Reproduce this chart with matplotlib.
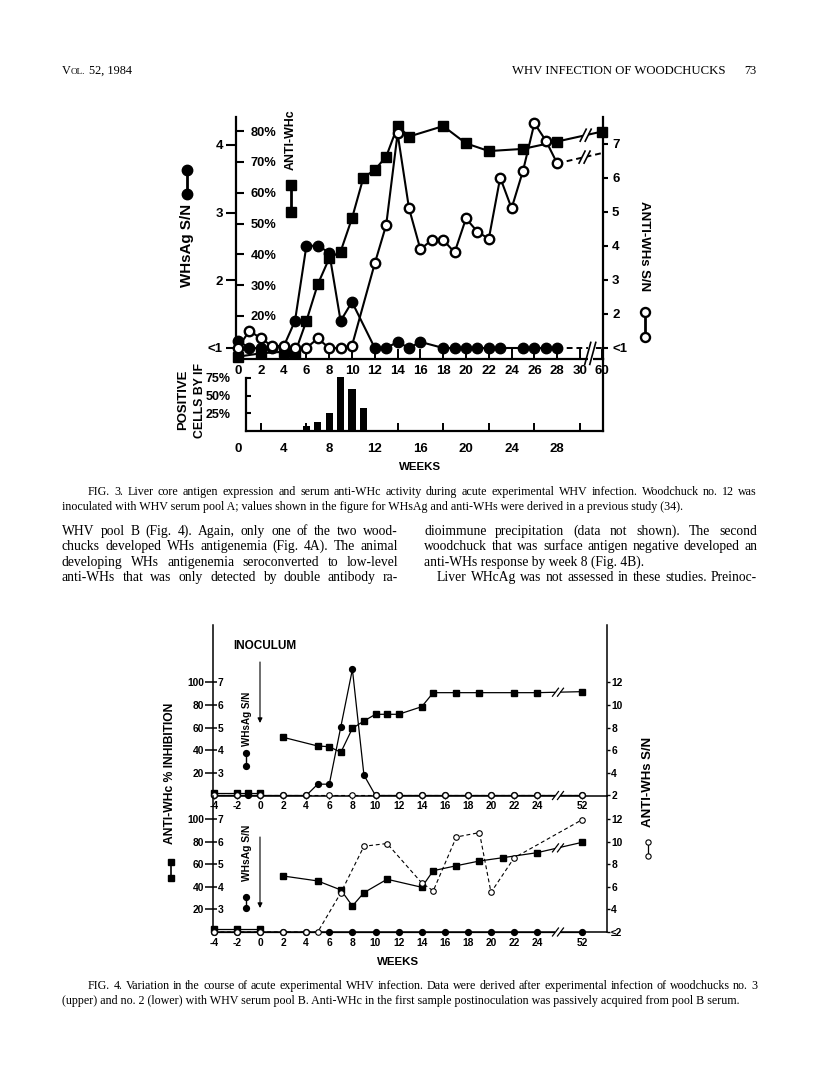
import matplotlib
matplotlib.use('Agg')
import matplotlib.pyplot as plt
from matplotlib.lines import Line2D
from matplotlib.patches import Rectangle
from matplotlib.transforms import IdentityTransform
import numpy as np

SANS = ['Liberation Sans', 'DejaVu Sans']
SERIF = ['Liberation Serif', 'DejaVu Serif']
plt.rcParams['font.family'] = SANS

# ---------------- data: Fig. 3 ----------------
f3_whc_weeks = [0, 2, 4, 5, 6, 7, 8, 9, 10, 11, 12, 13, 14, 15, 18, 20, 22, 25, 28, 60]
f3_whc_pct = [6.8, 7.9, 8.4, 8.0, 18.4, 30.3, 38.7, 40.9, 51.7, 64.9, 67.4, 71.7, 81.6,
              78.2, 81.6, 76.0, 73.5, 74.2, 76.6, 79.8]
f3_whsag_weeks = [0, 1, 2, 3, 4, 5, 6, 7, 8, 9, 10, 12, 13, 14, 15, 16, 18, 19, 20, 21,
                  22, 23, 25, 26, 27, 28, 60]
f3_whsag_sn = [1.11, 1.0, 1.0, 1.0, 1.02, 1.40, 2.51, 2.51, 2.41, 1.40, 1.68, 1.0, 1.0,
               1.09, 1.0, 1.09, 1.0, 1.0, 1.0, 1.0, 1.0, 1.0, 1.0, 1.0, 1.0, 1.0, 1.0]
f3_antiwhs_weeks = [0, 1, 2, 3, 4, 5, 6, 7, 8, 9, 10, 12, 13, 14, 15, 16, 17, 18, 19, 20,
                    21, 22, 23, 24, 25, 26, 27, 28, 60]
f3_antiwhs_sn = [1.0, 1.51, 1.28, 1.06, 1.06, 1.0, 1.0, 1.28, 1.0, 1.0, 1.07, 3.49, 4.62,
                 7.31, 5.11, 3.90, 4.18, 4.18, 3.81, 4.81, 4.42, 4.21, 6.01, 5.11, 6.21,
                 7.61, 7.10, 6.43, 6.73]
f3_if_weeks = [2, 4, 6, 7, 8, 9, 10, 11, 13, 16]
f3_if_pct = [1, 1, 7, 13, 25, 76, 60, 33, 2, 1]
f3_week_ticks = [0, 2, 4, 6, 8, 10, 12, 14, 16, 18, 20, 22, 24, 26, 28, 30, 60]
f3_bar_labels = [0, 4, 8, 12, 16, 20, 24, 28]
f3_whsag_ticks = [1, 2, 3, 4]
f3_whsag_ticklabels = ['<1', '2', '3', '4']
f3_pct_ticks = [20, 30, 40, 50, 60, 70, 80]
f3_antiwhs_ticks = [1, 2, 3, 4, 5, 6, 7]
f3_antiwhs_ticklabels = ['<1', '2', '3', '4', '5', '6', '7']
f3_if_ticks = [25, 50, 75]

# ---------------- data: Fig. 4 (upper, woodchuck no. 3) ----------------
f4a_whc_pre_weeks = [-4, -2, -1, 0]
f4a_whc_pre_pct = [2, 2, 2, 2]
f4a_whc_weeks = [2, 5, 6, 7, 8, 9, 10, 11, 12, 14, 15, 17, 19, 22, 24, 52]
f4a_whc_pct = [51.4, 43.7, 43.1, 38.1, 59.3, 65.8, 71.7, 71.7, 71.7, 78.4, 90.8, 90.8,
               90.8, 90.8, 90.8, 91.7]
f4a_whsag_weeks = [-4, -2, -1, 0, 2, 4, 5, 6, 7, 8, 9, 10, 12, 14, 16, 18, 20, 22, 24, 52]
f4a_whsag_sn = [2, 2, 2, 2, 2, 2, 2.5, 2.5, 5.04, 7.57, 2.9, 2, 2, 2, 2, 2, 2, 2, 2, 2]
f4a_antiwhs_weeks = [-4, -2, 0, 2, 4, 6, 8, 10, 12, 14, 16, 18, 20, 22, 24, 52]
f4a_antiwhs_sn = [2, 2, 2, 2, 2, 2, 2, 2, 2, 2, 2, 2, 2, 2, 2, 2]

# ---------------- data: Fig. 4 (lower, woodchuck no. 2) ----------------
f4b_whc_pre_weeks = [-4, -2, 0]
f4b_whc_pre_pct = [3, 3, 3]
f4b_whc_weeks = [2, 5, 7, 8, 9, 11, 14, 15, 17, 19, 21, 24, 52]
f4b_whc_pct = [49.7, 45.3, 37.3, 23.1, 34.9, 46.8, 39.7, 54.4, 58.8, 63.0, 65.9, 70.4, 79.6]
f4b_whsag_weeks = [-4, -2, 0, 2, 4, 6, 8, 10, 12, 14, 16, 18, 20, 22, 24, 52]
f4b_whsag_sn = [2] * 16
f4b_antiwhs_weeks = [-4, -2, 0, 2, 4, 5, 7, 9, 11, 14, 15, 17, 19, 20, 22, 52]
f4b_antiwhs_sn = [2, 2, 2, 2, 2, 2, 5.48, 9.61, 9.85, 6.36, 5.65, 10.43, 10.82, 5.51, 8.58, 11.97]

f4_week_ticks = [-4, -2, 0, 2, 4, 6, 8, 10, 12, 14, 16, 18, 20, 22, 24, 52]
f4_pct_ticks = [20, 40, 60, 80, 100]
f4_whsag_ticks = [3, 4, 5, 6, 7]
f4_antiwhs_ticks = [2, 4, 6, 8, 10, 12]

# ---------------- text ----------------
header_right = 'WHV INFECTION OF WOODCHUCKS'
cap3 = ['FIG. 3. Liver core antigen expression and serum anti-WHc activity during acute experimental WHV infection. Woodchuck no. 12 was',
        'inoculated with WHV serum pool A; values shown in the figure for WHsAg and anti-WHs were derived in a previous study (34).']
body_left = ['WHV pool B (Fig. 4). Again, only one of the two wood-',
             'chucks developed WHs antigenemia (Fig. 4A). The animal',
             'developing WHs antigenemia seroconverted to low-level',
             'anti-WHs that was only detected by double antibody ra-']
body_right = ['dioimmune precipitation (data not shown). The second',
              'woodchuck that was surface antigen negative developed an',
              'anti-WHs response by week 8 (Fig. 4B).',
              'Liver WHcAg was not assessed in these studies. Preinoc-']
cap4 = ['FIG. 4. Variation in the course of acute experimental WHV infection. Data were derived after experimental infection of woodchucks no. 3',
        '(upper) and no. 2 (lower) with WHV serum pool B. Anti-WHc in the first sample postinoculation was passively acquired from pool B serum.']

# ---------------- figure helpers ----------------
W, H = 816, 1071
fig = plt.figure(figsize=(W / 100, H / 100), dpi=100)
renderer = fig.canvas.get_renderer()


def fx(x):
    return x / W


def fy(y):
    return 1 - y / H


def box(x0, y0, x1, y1):
    return [x0 / W, 1 - y1 / H, (x1 - x0) / W, (y1 - y0) / H]


def width_of(s, size, family=SERIF, weight='normal'):
    t = fig.text(0, 0, s, fontsize=size, family=family, weight=weight)
    w = t.get_window_extent(renderer).width
    t.remove()
    return w


def fit_size(s, target, family=SERIF, weight='normal'):
    return 10 * target / width_of(s, 10, family, weight)


def put(s, x, y, size, family=SERIF, weight='normal', **kw):
    return fig.text(fx(x), fy(y), s, fontsize=size, family=family, weight=weight,
                    va='baseline', ha='left', **kw)


def justify(s, x0, x1, y, size, family=SERIF):
    words = s.split(' ')
    ws = [width_of(w, size, family) for w in words]
    gap = (x1 - x0 - sum(ws)) / (len(words) - 1)
    x = x0
    for w, wd in zip(words, ws):
        put(w, x, y, size, family)
        x += wd + gap


def vlabel(s, x, yc, length, rot=90, weight='bold'):
    size = fit_size(s, length, SANS, weight)
    fig.text(fx(x), fy(yc), s, rotation=rot, ha='center', va='center',
             fontsize=size, weight=weight, family=SANS)


def hlabel(s, xc, yc, length, ha='center'):
    size = fit_size(s, length, SANS, 'bold')
    fig.text(fx(xc), fy(yc), s, ha=ha, va='center', fontsize=size, weight='bold',
             family=SANS)


def key(x, ys, marker, ms, mfc='k', mew=1.0, lw=1.5):
    fig.add_artist(Line2D([fx(x)] * len(ys), [fy(v) for v in ys], transform=fig.transFigure,
                          color='k', lw=lw, marker=marker, ms=ms, mfc=mfc, mec='k', mew=mew))


def brk(ax, pos, xs, ys, h=12, lw=1.2):
    yv = np.interp(pos, xs, ys)
    X, Y = ax.transData.transform((pos, yv))
    fig.add_artist(Rectangle((X - 2.5, Y - h / 2), 5, h, transform=IdentityTransform(),
                             facecolor='white', edgecolor='none', zorder=10))
    for dx in (-2.5, 2.5):
        fig.add_artist(Line2D([X + dx - 3, X + dx + 3], [Y - h / 2, Y + h / 2],
                              transform=IdentityTransform(), color='k', lw=lw, zorder=11))


def pos3(w):
    return w if w <= 30 else 31.9


def pos4(w):
    return w if w <= 30 else 27.9


# ---------------- header ----------------
put('V', 62, 74, 8.8)
put('OL.', 62 + width_of('V', 8.8), 74, 6.6)
put('52, 1984', 62 + width_of('V', 8.8) + width_of('OL.', 6.6) + 4, 74, 8.8)
put(header_right, 512, 74, fit_size(header_right, 215))
put('73', 744, 74, 8.8)

# ================= FIG. 3 =================
X3_0, X3_1 = 236, 603
scale3 = 11.4
xl3 = ((X3_0 - 238) / scale3, (X3_1 - 238) / scale3)

ax3 = fig.add_axes(box(X3_0, 117, X3_1, 359))
ax3.set_xlim(*xl3)
ax3.set_ylim(0.8375, 4.412)
for s in ('top', 'right'):
    ax3.spines[s].set_visible(False)
for s in ('left', 'bottom'):
    ax3.spines[s].set_linewidth(1.6)
ax3.set_yticks(f3_whsag_ticks)
ax3.set_yticklabels(f3_whsag_ticklabels)
ax3.tick_params(axis='y', direction='out', length=7.5, width=1.5, pad=2,
                labelsize=9.5)
ax3.set_xticks([pos3(w) for w in f3_week_ticks])
ax3.set_xticklabels([str(w) for w in f3_week_ticks])
ax3.tick_params(axis='x', direction='in', length=7.5, width=1.4, pad=4, labelsize=9.5)
for lab in ax3.get_xticklabels() + ax3.get_yticklabels():
    lab.set_fontweight('bold')

ax3p = ax3.twinx()
ax3p.set_ylim(6.05, 84.55)
for s in ax3p.spines.values():
    s.set_visible(False)
ax3p.yaxis.set_ticks_position('left')
ax3p.set_yticks(f3_pct_ticks)
ax3p.set_yticklabels(['%d%%' % p for p in f3_pct_ticks])
ax3p.tick_params(axis='y', direction='in', length=6, width=1.5, pad=-10.5, labelsize=9.3)
for lab in ax3p.get_yticklabels():
    lab.set_ha('left')
    lab.set_fontweight('bold')

ax3s = ax3.twinx()
ax3s.set_ylim(0.676, 7.794)
for s in ('top', 'left', 'bottom'):
    ax3s.spines[s].set_visible(False)
ax3s.spines['right'].set_linewidth(1.6)
ax3s.set_yticks(f3_antiwhs_ticks)
ax3s.set_yticklabels(f3_antiwhs_ticklabels)
ax3s.tick_params(axis='y', direction='out', length=3.5, width=1.5, pad=3, labelsize=9.5)
for lab in ax3s.get_yticklabels():
    lab.set_fontweight('bold')

# series
p_whc = [pos3(w) for w in f3_whc_weeks]
ax3p.plot(p_whc, f3_whc_pct, color='k', lw=1.5, marker='s', ms=7, mfc='k', mec='k',
          clip_on=False, zorder=3)
p_ag = [pos3(w) for w in f3_whsag_weeks]
ax3.plot(p_ag[:-1], f3_whsag_sn[:-1], color='k', lw=1.5, marker='o', ms=7.5, clip_on=False, zorder=3)
ax3.plot(p_ag[-2:], f3_whsag_sn[-2:], color='k', lw=1.4, ls=(0, (3, 2)), clip_on=False, zorder=2)
p_s = [pos3(w) for w in f3_antiwhs_weeks]
ax3s.plot(p_s[:-1], f3_antiwhs_sn[:-1], color='k', lw=1.5, marker='o', ms=6.8, mfc='white',
          mec='k', mew=1.7, clip_on=False, zorder=4)
ax3s.plot(p_s[-2:], f3_antiwhs_sn[-2:], color='k', lw=1.4, ls=(0, (3, 2)), clip_on=False, zorder=2)

# breaks
brk(ax3p, 30.5, p_whc[-2:], f3_whc_pct[-2:], h=12)
brk(ax3s, 30.4, p_s[-2:], f3_antiwhs_sn[-2:], h=12)
brk(ax3, 30.9, [0, 40], [0.92, 0.92], h=22)

# bar chart (liver core antigen)
axb = fig.add_axes(box(X3_0, 359, X3_1, 431))
axb.set_facecolor('none')
axb.set_xlim(*xl3)
axb.set_ylim(0, 72 / 0.707)
axb.spines['top'].set_visible(False)
axb.spines['left'].set_position(('data', 0.7))
axb.spines['left'].set_bounds(0, 75)
axb.spines['bottom'].set_bounds(0.7, xl3[1])
for s in ('left', 'bottom', 'right'):
    axb.spines[s].set_linewidth(1.6)
axb.bar(f3_if_weeks, f3_if_pct, width=0.62, color='k')
axb.set_yticks(f3_if_ticks)
axb.set_yticklabels(['%d%%' % v for v in f3_if_ticks])
axb.tick_params(axis='y', direction='in', length=3.5, width=1.5, pad=11, labelsize=9)
axb.set_xticks(f3_bar_labels)
axb.set_xticklabels([str(v) for v in f3_bar_labels])
axb.set_xticks(list(range(2, 31, 2)), minor=True)
axb.tick_params(axis='x', which='major', length=0, pad=9, labelsize=9.5)
axb.tick_params(axis='x', which='minor', direction='in', length=6, width=1.4)
for lab in axb.get_xticklabels() + axb.get_yticklabels():
    lab.set_fontweight('bold')

# Fig. 3 labels and keys
vlabel('WHsAg S/N', 187, 245, 83)
key(187, [170, 194], 'o', 7.5, lw=2)
vlabel('ANTI-WHc', 291, 140, 60)
key(291, [185, 212], 's', 7.2, lw=2)
vlabel('ANTI-WHs S/N', 644, 246, 90, rot=270)
key(645, [312, 337], 'o', 6.5, mfc='white', mew=1.7, lw=2)
vlabel('POSITIVE', 183, 400, 60)
vlabel('CELLS BY IF', 200, 400, 74)
hlabel('WEEKS', 420, 467, 42)

# ---------------- captions and body text ----------------
s_cap = min(fit_size(cap4[1], 690), fit_size(cap4[0], 666), fit_size(cap3[0], 666))
justify(cap3[0], 88, 757, 495, s_cap)
put(cap3[1], 62, 510, s_cap)

s_body = min(fit_size(body_left[i], 330) for i in range(4))
s_body = min(s_body, fit_size(body_right[0], 327), fit_size(body_right[1], 327),
             fit_size(body_right[3], 314))
for i, ln in enumerate(body_left):
    justify(ln, 62, 398, 535 + i * 15.3, s_body)
justify(body_right[0], 424, 757, 535, s_body)
justify(body_right[1], 424, 757, 550.3, s_body)
put(body_right[2], 424, 565.6, s_body)
justify(body_right[3], 437, 757, 580.9, s_body)

# ================= FIG. 4 =================
X4_0, X4_1 = 213, 607
scale4 = 11.55
xl4 = ((X4_0 - 260) / scale4, (X4_1 - 260) / scale4)


def panel(y0, y1, pxpp, whc_pre, whc, ag, s_data, s_lab_bottom):
    ax = fig.add_axes(box(X4_0, y0, X4_1, y1))
    ax.set_facecolor('none')
    ptop = (y1 - y0) / pxpp
    ax.set_xlim(*xl4)
    ax.set_ylim(0, ptop)
    ax.spines['top'].set_visible(False)
    for s in ('left', 'right', 'bottom'):
        ax.spines[s].set_linewidth(1.1)
    ax.set_yticks(f4_pct_ticks)
    ax.set_yticklabels([str(v) for v in f4_pct_ticks])
    ax.tick_params(axis='y', direction='out', length=5.5, width=1.1, pad=1, labelsize=7.4)
    ax.set_xticks([pos4(w) for w in f4_week_ticks])
    ax.set_xticklabels([str(w) for w in f4_week_ticks])
    ax.tick_params(axis='x', direction='inout', length=5, width=1.0, pad=1.5, labelsize=7.4)
    for lab in ax.get_xticklabels() + ax.get_yticklabels():
        lab.set_fontweight('bold')

    axg = ax.twinx()
    axg.set_ylim(2, 2 + ptop / 20)
    for s in axg.spines.values():
        s.set_visible(False)
    axg.yaxis.set_ticks_position('left')
    axg.set_yticks(f4_whsag_ticks)
    axg.set_yticklabels([str(v) for v in f4_whsag_ticks])
    axg.tick_params(axis='y', direction='in', length=3, width=1.1, pad=-3.5, labelsize=7.4)
    for lab in axg.get_yticklabels():
        lab.set_ha('left')
        lab.set_fontweight('bold')

    axs = ax.twinx()
    axs.set_ylim(2, 2 + ptop / 10)
    for s in axs.spines.values():
        s.set_visible(False)
    axs.set_yticks(f4_antiwhs_ticks)
    axs.set_yticklabels([s_lab_bottom] + [str(v) for v in f4_antiwhs_ticks[1:]])
    axs.tick_params(axis='y', direction='out', length=2.5, width=1.0, pad=0.5, labelsize=7.4)
    for lab in axs.get_yticklabels():
        lab.set_fontweight('bold')

    ax.plot(*whc_pre, color='k', lw=0.9, marker='s', ms=4.8, clip_on=False, zorder=3)
    pw = [pos4(w) for w in whc[0]]
    ax.plot(pw, whc[1], color='k', lw=0.9, marker='s', ms=4.8, clip_on=False, zorder=3)
    axg.plot([pos4(w) for w in ag[0]], ag[1], color='k', lw=0.9, marker='o', ms=4.2,
             clip_on=False, zorder=3)
    axs.plot([pos4(w) for w in s_data[0]], s_data[1], color='k', lw=0.8, ls=(0, (3.5, 2.5)),
             marker='o', ms=4.0, mfc='white', mec='k', mew=0.8, clip_on=False, zorder=4)
    brk(ax, 25.8, pw[-2:], whc[1][-2:], h=8, lw=0.9)
    brk(ax, 25.8, [0, 30], [0, 0], h=8, lw=0.9)
    return ax


ax4u = panel(625, 795.5, 1.1325, (f4a_whc_pre_weeks, f4a_whc_pre_pct),
             (f4a_whc_weeks, f4a_whc_pct), (f4a_whsag_weeks, f4a_whsag_sn),
             (f4a_antiwhs_weeks, f4a_antiwhs_sn), '2')
ax4l = panel(795.5, 932, 1.127, (f4b_whc_pre_weeks, f4b_whc_pre_pct),
             (f4b_whc_weeks, f4b_whc_pct), (f4b_whsag_weeks, f4b_whsag_sn),
             (f4b_antiwhs_weeks, f4b_antiwhs_sn), '≤2')

# inoculum arrows (at week 0)
for ax, ya, yb in ((ax4u, 662, 723), (ax4l, 837, 908)):
    ax.annotate('', xy=(0, fy(yb)), xytext=(0, fy(ya)), xycoords=('data', 'figure fraction'),
                textcoords=('data', 'figure fraction'),
                arrowprops=dict(arrowstyle='-|>', lw=0.8, color='k', mutation_scale=7,
                                shrinkA=0, shrinkB=0))

hlabel('INOCULUM', 233, 646, 63, ha='left')
vlabel('WHsAg S/N', 247, 719, 54)
key(246, [753, 766], 'o', 4.2, lw=1.0)
vlabel('WHsAg S/N', 247, 853, 56)
key(246.5, [897, 908], 'o', 4.2, lw=1.0)
vlabel('ANTI-WHc % INHIBITION', 170, 773, 140)
key(170.5, [862, 878], 's', 5, lw=1.2)
vlabel('ANTI-WHs S/N', 648, 782, 90)
key(648, [842, 856], 'o', 3.8, mfc='white', mew=0.8, lw=0.9)
hlabel('WEEKS', 398, 962, 42)

justify(cap4[0], 88, 757, 989, s_cap)
put(cap4[1], 62, 1004, s_cap)

fig.savefig('out.png', dpi=100)
